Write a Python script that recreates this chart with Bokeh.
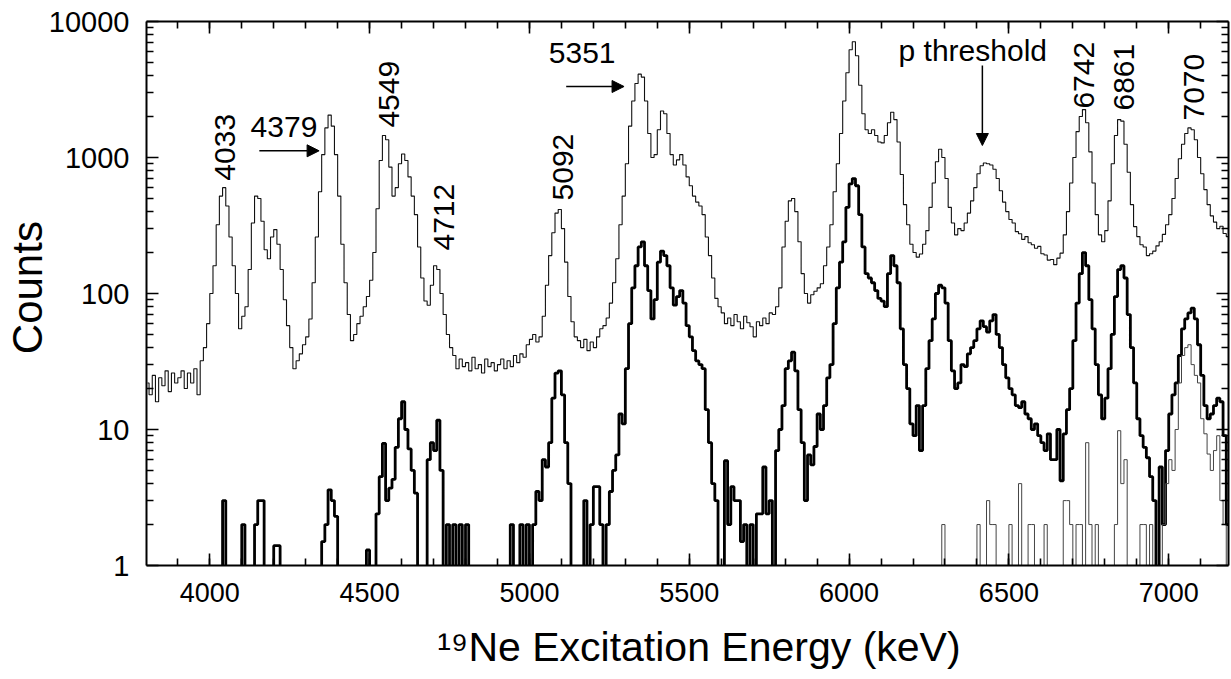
import numpy as np
from bokeh.plotting import figure
from bokeh.models import (Range1d, FixedTicker, LinearAxis, LogAxis, Label, Arrow,
                          NormalHead, PrintfTickFormatter)
from bokeh.embed import file_html
from bokeh.resources import INLINE

# ---------------- data ----------------
# 10 keV bins, first bin centre 3805 keV; one row = 100 keV
bin_start = 3805
bin_width = 10

singles = [
    22, 18, 25, 16, 24, 21, 27, 19, 26, 22,            # 3800
    24, 27, 20, 26, 22, 28, 18, 32, 40, 60,            # 3900
    100, 160, 320, 520, 600, 440, 260, 160, 100, 55,   # 4000
    68, 80, 150, 330, 520, 500, 340, 210, 180, 260,    # 4100
    295, 230, 150, 90, 58, 40, 28, 32, 36, 42,         # 4200
    48, 65, 120, 260, 560, 1050, 1650, 2050, 1700, 1050,  # 4300
    520, 230, 120, 70, 45, 50, 60, 68, 80, 95,         # 4400
    125, 200, 420, 950, 1450, 1350, 850, 520, 600, 900,   # 4500
    1060, 950, 720, 520, 380, 220, 130, 88, 82, 115,   # 4600
    160, 150, 100, 70, 50, 40, 35, 28, 33, 29,         # 4700
    31, 27, 34, 28, 30, 26, 33, 29, 31, 27,            # 4800
    30, 33, 28, 32, 29, 35, 31, 36, 34, 42,            # 4900
    46, 50, 44, 48, 68, 115, 190, 280, 390, 415,       # 5000
    300, 170, 95, 62, 48, 45, 40, 46, 38, 44,          # 5100
    40, 48, 55, 58, 66, 85, 120, 180, 320, 520,        # 5200
    900, 1700, 2600, 3500, 4100, 3900, 2600, 1500, 1000, 1050,  # 5300
    1600, 2200, 2100, 1500, 1050, 880, 960, 1050, 880, 720,     # 5400
    620, 520, 470, 440, 380, 260, 190, 130, 92, 80,    # 5500
    72, 60, 66, 58, 70, 62, 55, 68, 61, 57,            # 5600
    48, 62, 58, 66, 60, 72, 70, 80, 110, 220,          # 5700
    340, 480, 500, 400, 240, 140, 100, 85, 98, 104,    # 5800
    110, 118, 160, 220, 320, 560, 900, 1500, 2600, 4200,        # 5900
    6200, 7100, 5600, 3400, 2100, 1600, 1500, 1600, 1450, 1300, # 6000
    1280, 1450, 1800, 2150, 1900, 1300, 750, 450, 320, 230,     # 6100
    200, 185, 195, 230, 290, 430, 650, 930, 1150, 1000,  # 6200
    700, 430, 330, 270, 300, 290, 330, 390, 480, 600,    # 6300
    760, 870, 910, 900, 880, 820, 700, 570, 470, 400,    # 6400
    350, 330, 285, 275, 250, 262, 236, 228, 215, 222,    # 6500
    196, 192, 176, 178, 163, 182, 198, 270, 400, 650,    # 6600
    1000, 1550, 2000, 2250, 1800, 1100, 650, 380, 270, 240,     # 6700
    290, 480, 900, 1450, 1900, 1850, 1250, 780, 450, 310,       # 6800
    262, 228, 220, 190, 196, 205, 224, 240, 272, 320,    # 6900
    380, 500, 700, 980, 1250, 1500, 1650, 1600, 1350, 1000,     # 7000
    760, 580, 450, 372, 335, 300, 312, 276, 262, 236,    # 7100
]

coincidences = [
    0, 0, 0, 0, 0, 0, 0, 0, 0, 0,                      # 3800
    0, 0, 0, 0, 0, 0, 0, 0, 0, 0,                      # 3900
    0, 0, 0, 0, 3, 0, 0, 0, 0, 0,                      # 4000
    2, 0, 0, 0, 2, 3, 3, 0, 0, 0,                      # 4100
    1.4, 1.4, 0, 0, 0, 0, 0, 0, 0, 0,                  # 4200
    0, 0, 0, 0, 0, 1.5, 2, 3.6, 3, 2.3,                # 4300
    0, 0, 0, 0, 0, 0, 0, 0, 0, 1.3,                    # 4400
    0, 0, 2.4, 4.5, 7.9, 3, 3.7, 4.3, 7.4, 12,         # 4500
    16, 10, 7.2, 5, 3.4, 0, 0, 0, 6, 8,                # 4600
    7, 11.7, 5, 0, 2, 0, 2, 0, 2, 0,                   # 4700
    2, 0, 0, 0, 0, 0, 0, 0, 0, 0,                      # 4800
    0, 0, 0, 0, 2, 0, 0, 2, 0, 2,                      # 4900
    0, 2, 3.5, 3, 6, 5.3, 8, 17, 26, 27,               # 5000
    18, 8, 4, 0, 0, 0, 0, 3, 0, 2,                     # 5100
    3.8, 3.8, 2, 0, 2, 3.5, 5, 6.5, 13, 11,            # 5200
    28, 60, 110, 160, 220, 240, 160, 105, 65, 90,      # 5300
    170, 205, 190, 160, 110, 82, 95, 105, 85, 58,      # 5400
    48, 38, 32, 30, 28, 14, 8, 4, 3, 0,                # 5500
    0, 5.9, 2, 3.8, 3, 3, 1.5, 2, 0, 2,                # 5600
    0, 2.4, 2.4, 5.3, 2.4, 3, 0, 7, 10, 15,            # 5700
    28, 32, 37, 27, 14, 8, 3, 6.5, 5.5, 7.5,           # 5800
    13, 10, 15, 24, 30, 60, 110, 170, 240, 430,        # 5900
    640, 700, 620, 380, 220, 140, 130, 120, 105, 92,   # 6000
    88, 80, 140, 190, 160, 120, 55, 30, 20, 11,        # 6100
    9, 15, 7, 15, 28, 45, 65, 100, 115, 110,           # 6200
    85, 45, 27, 20, 22, 30, 29, 36, 40, 45,            # 6300
    55, 63, 57, 52, 63, 70, 50, 40, 30, 24,            # 6400
    20, 18, 15, 14.5, 16, 13, 12, 10, 11, 9,           # 6500
    8, 7, 9.3, 6, 6, 10, 4.2, 9.3, 14, 20,             # 6600
    45, 85, 140, 200, 160, 90, 55, 30, 18, 12,         # 6700
    17, 28, 50, 95, 150, 160, 130, 70, 40, 22,         # 6800
    12, 9, 7.4, 6.2, 4.5, 3, 0, 5.3, 2, 7,             # 6900
    13, 18, 22, 35, 55, 65, 72, 78, 65, 42,            # 7000
    25, 15, 12, 13, 15, 17, 16, 9, 2, 2.5,             # 7100
]

# second (thin) coincidence spectrum: empty below 6200 keV
gated_low = [0] * 240
gated_high = [
    0, 0, 0, 0, 0, 0, 0, 0, 0, 2,                      # 6200
    0, 0, 0, 0, 0, 0, 0, 0, 0, 0,                      # 6300
    2, 0, 0, 3, 2, 2, 0, 0, 0, 0,                      # 6400
    2, 0, 0, 4, 0, 0, 2, 2, 0, 0,                      # 6500
    0, 2, 0, 0, 0, 0, 0, 3, 3, 2,                      # 6600
    0, 2, 2, 0, 8, 2, 0, 2, 0, 0,                      # 6700
    0, 0, 0, 2, 9.8, 4, 6, 0, 0, 0,                    # 6800
    0, 2, 2, 0, 2, 0, 0, 0, 2, 4,                      # 6900
    6, 5, 10, 22, 35, 40, 42, 30, 25, 22,              # 7000
    12, 9.3, 6.6, 5, 7, 9, 3, 2, 0, 0,                 # 7100
]
gated = gated_low + gated_high

x_ticks = [4000, 4500, 5000, 5500, 6000, 6500, 7000]
y_ticks = [1, 10, 100, 1000, 10000]

vert_labels = ["4033", "4549", "4712", "5092", "6742", "6861", "7070"]
vert_label_x = [4049, 4562, 4733, 5105, 6736, 6861, 7080]
vert_label_y = [676, 1660, 207, 483, 2290, 2216, 1870]

horiz_labels = ["4379", "5351", "p threshold"]
horiz_label_x = [4232, 5165, 6387]
horiz_label_y = [1663, 5820, 6120]

# arrows: (x_start, y_start, x_end, y_end)
arrows = [(4155, 1120, 4342, 1120), (5115, 3327, 5296, 3327), (6417, 4750, 6417, 1225)]

# ---------------- plot ----------------
FONT = "Liberation Sans"
energy = bin_start + bin_width * np.arange(len(singles))


def floor_zero(vals):
    # empty bins drawn below the axis (clipped) on the log scale
    return [v if v > 0 else 0.3 for v in vals]


p = figure(width=1230, height=678, x_range=Range1d(3802, 7187), y_range=Range1d(1, 10000),
           y_axis_type="log", output_backend="svg", toolbar_location=None,
           min_border_left=145, min_border_right=2, min_border_top=21, min_border_bottom=113)
p.outline_line_color = None
p.grid.visible = False
p.background_fill_color = "white"
p.border_fill_color = "white"

p.step(energy, floor_zero(singles), mode="center", line_color="#111111", line_width=1.1)
p.step(energy, floor_zero(coincidences), mode="center", line_color="black", line_width=2.8)
p.step(energy, floor_zero(gated), mode="center", line_color="#444444", line_width=1.0)

xt = FixedTicker(ticks=x_ticks, minor_ticks=list(range(3900, 7200, 100)))
yt = FixedTicker(ticks=y_ticks, minor_ticks=[k * 10 ** d for d in range(4) for k in range(2, 10)])

bottom = p.below[0]
left = p.left[0]
top = LinearAxis()
right = LogAxis()
p.add_layout(top, "above")
p.add_layout(right, "right")

bottom.ticker = xt
top.ticker = xt
left.ticker = yt
right.ticker = yt

for ax in [bottom, left, top, right]:
    ax.axis_line_width = 2
    ax.axis_line_color = "black"
    ax.major_tick_in = 12
    ax.major_tick_out = 0
    ax.minor_tick_in = 7
    ax.minor_tick_out = 0
    ax.major_tick_line_width = 1.6
    ax.minor_tick_line_width = 1.6
    ax.major_tick_line_color = "black"
    ax.minor_tick_line_color = "black"
    ax.major_label_text_font = FONT
    ax.major_label_text_color = "black"

for ax in [top, right]:
    ax.major_label_text_font_size = "1px"
    ax.major_label_text_alpha = 0
    ax.major_label_standoff = 0

bottom.major_label_text_font_size = "27px"
bottom.major_label_standoff = 17
left.major_label_text_font_size = "29px"
left.major_label_standoff = 17
left.formatter = PrintfTickFormatter(format="%d")
right.formatter = PrintfTickFormatter(format="%d")

# axis titles
left.axis_label = "\u00a0Counts"
left.axis_label_text_font = FONT
left.axis_label_text_font_size = "42px"
left.axis_label_text_font_style = "normal"
left.axis_label_text_color = "black"
left.axis_label_standoff = -5

bottom.axis_label = "\u00a0\u00a0\u00b9\u2079Ne Excitation Energy (keV)"
bottom.axis_label_text_font = FONT
bottom.axis_label_text_font_size = "41px"
bottom.axis_label_text_font_style = "normal"
bottom.axis_label_text_color = "black"
bottom.axis_label_standoff = 19

# peak labels
for t, x, y in zip(vert_labels, vert_label_x, vert_label_y):
    p.add_layout(Label(x=x, y=y, text=t, angle=np.pi / 2, text_align="left", text_baseline="middle",
                       text_font=FONT, text_font_size="30px", text_color="black"))
for t, x, y in zip(horiz_labels, horiz_label_x, horiz_label_y):
    p.add_layout(Label(x=x, y=y, text=t, text_align="center", text_baseline="alphabetic",
                       text_font=FONT, text_font_size="30px", text_color="black"))
for xs, ys, xe, ye in arrows:
    p.add_layout(Arrow(x_start=xs, y_start=ys, x_end=xe, y_end=ye, line_width=1.5, line_color="black",
                       end=NormalHead(size=12, fill_color="black", line_color="black", line_width=1)))

open("out.html", "w").write(file_html(p, INLINE))
